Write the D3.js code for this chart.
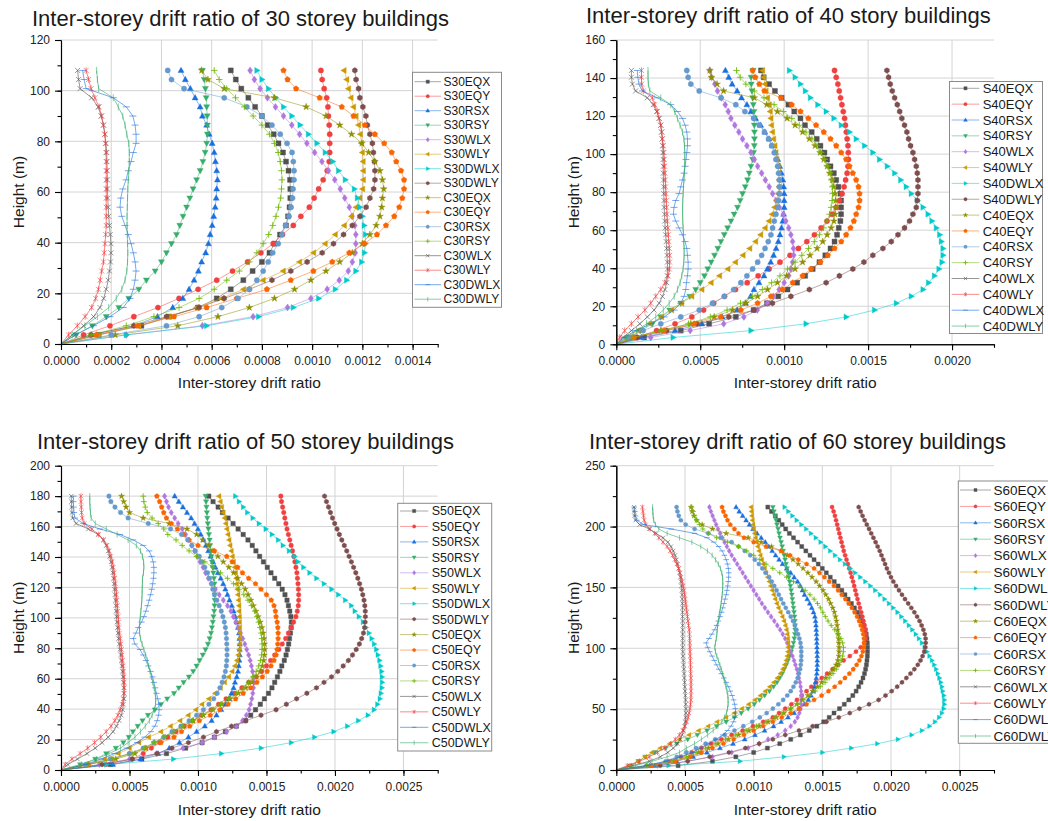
<!DOCTYPE html>
<html>
<head>
<meta charset="utf-8">
<script src="https://d3js.org/d3.v7.min.js"></script>
<style>
  body { margin: 0; background: #fff; }
  svg { display: block; font-family: "Liberation Sans", Arial, sans-serif; }
  .grid line { stroke: #d4d4d4; stroke-width: 1; }
  .axis path, .axis line { stroke: #000; stroke-width: 1.1; }
  .axis text { fill: #222; font-size: 12px; font-family: "Liberation Sans", Arial, sans-serif; }
  .title { font-size: 22px; fill: #1a1a1a; }
  .axis-title { font-size: 15.5px; fill: #1a1a1a; }
  .legend rect { fill: #fff; stroke: #8a8a8a; stroke-width: 1; }
  .legend text { fill: #1a1a1a; }
</style>
</head>
<body>
<script>
// inter-storey drift ratio, in units of 1e-5, listed from storey 1 (bottom) to the roof
// storey height is 3.6 m in every building

// ---- 30 storeys ----
const S30EQX = [15,32,43,54.5,62,67.6,72.6,76.3,80,83,85,87.2,89.6,90.4,91,91.3,91.3,91.2,90.6,89.6,88.4,86.6,84.7,82.3,80,77.3,74.6,71.8,69.6,67.6];
const S30EQY = [9,19.5,29,38.6,47,54.6,62,68.3,74.3,79.6,84.5,88.2,92.5,95.5,98.9,100.8,102.6,104.4,106,106.8,107,107,107,106.8,106.5,106.3,105.8,104.8,104,103.5];
const S30RSX = [12,29,38.4,44.5,48.5,51,53,54.7,56,57.6,58.7,59.4,60.2,60.8,61.4,61.8,62,62.3,62,61.5,61,60.2,59,58,56.3,55.4,53.4,51.5,49.5,47.8];
const S30RSY = [6,12.5,18,23,27,31,34,37.5,40,42,44,46,47.3,48.6,50,51.3,52.6,54,55.4,56.5,57.4,58,58.3,58.3,58.2,58,57.8,57.5,57,56.3];
const S30WLX = [26,56.3,76.5,90.2,99.5,106,110.8,114.4,116,117.2,117.4,117.4,117,115.9,114.8,113,111.2,109,106.5,103.9,101,97.9,95,91.9,88.6,85.4,82.2,79.3,77,75.3];
const S30WLY = [15,31,43,54,64,72.7,80.5,88.5,95,100.6,105.2,109.2,112.8,115.7,117.5,119,120.1,120.4,120.4,120.3,120,119.7,119.2,118.5,117.5,116.5,115.5,114.5,113.8,112.7];
const S30DWLX = [26,58,78.7,92.5,102.6,109.2,113.7,117.4,119.7,120.8,121.2,121.2,120.7,120,119,118,116.8,113.2,110.5,108.2,105.2,101.9,98.5,95.2,91.9,88.6,85.5,82.6,80,78];
const S30DWLY = [12,29,42,55,65,75,84,91.5,98,104,108.5,112.5,116,119,121.5,123,124.5,125,125,124.8,124.4,124,123,122,121.4,120.2,119,118.5,117.5,117];
const C30EQX = [21.6,46.5,62.5,75,85,93,99.5,105.5,111,116,120,123,125.5,127,127.7,128,128.5,128,127,125,122.5,119.8,115.7,111,105.5,97.6,85,65,58.5,56];
const C30EQY = [14,30.5,45,58,70,82,91.5,100.5,108,114.8,120.8,125.8,129.4,132.7,134.7,135.9,136.6,136.6,135.4,133.5,131.7,128.7,125,121,116.5,111.8,103,93.6,90.2,88.6];
const C30RSX = [20,42,55,64,70.5,75,78,80.5,82.5,84.3,86.5,88,89.4,90.8,91.6,92.2,92.4,92.8,92.8,92.5,92,90,87.3,84,80,74,65,49,44,42.5];
const C30RSY = [12,26,37,47,55,61,66,71,75,78,80.5,82.7,84.3,85.6,86.6,87.5,87.8,88,87.8,87.3,86.5,85,83,80,76.5,73,69.5,66,63,61];
const C30WLX = [4.5,9,13,15.5,17,18,18.8,19.3,19.7,19.9,19.9,19.6,19.3,19,18.8,18.6,18.5,18.5,18.4,18.3,18.2,17.9,17.5,16.9,16,14.8,12.2,7.6,7,6.6];
const C30WLY = [3,6.5,9.6,12.2,13.8,14.9,15.6,16.2,16.9,17.2,17.5,17.8,18,18,18,18,18,18,18,18,17.9,17.7,17.4,16.9,16.2,15.2,13.5,12,11,10];
const C30DWLX = [5.6,12.9,19.5,24.8,27.5,28.8,29.5,29.9,29.5,28.8,27.9,26.8,25.5,24.2,23.5,23.8,24.6,25.9,26.8,27.9,28.8,29.9,29.9,29.5,28.6,26,20.8,10,9.2,8.6];
const C30DWLY = [4.5,9.5,14.5,19,22,24.2,25.5,26.2,26.5,26.6,26.5,26.4,26.3,26.3,26.4,26.5,26.6,26.8,27,27.2,27.2,27,26.2,25.5,24.6,22.8,20.8,15,14.5,14.2];

// ---- 40 storeys ----
const S40EQX = [16.5,38.4,55.3,71.2,81.8,89.8,96.5,102,107.7,112.5,117,121,124.5,127.6,130,131.5,132.5,133.5,133.9,133.9,133.9,133.5,132.3,131,129.6,127.6,125.6,124,121.6,119.4,116.4,112.4,109.7,106,102.5,98.5,94.5,91,87.8,86.2];
const S40EQY = [12,24,35,45,52,58,64.5,71,78,84.5,91,97.5,103.5,108.5,113.5,118,122,125.5,128.5,131,133,134.5,135.7,136.6,137.5,138,138.3,138.2,138,137.5,137,136.5,136,135.2,134.4,133.6,132.8,132,131,130];
const S40RSX = [15,35,51,63,72,77,80,82,85,88,90,92,93.7,95.2,96.5,97.5,98.4,99.2,99.7,100,100,100,99.7,99.2,98.4,97.4,96.2,94.8,93,91,88.5,86,83,80.2,77.8,74.6,72,69,67,65];
const S40RSY = [8,14.5,21.5,26.5,31.8,38.4,43.8,47.3,50,52.5,54.5,56.5,58.5,60.5,62.3,64.3,66.3,68.3,70.2,72.2,73.8,75.2,76.8,78.2,79.2,80.2,81.2,81.8,82.2,82.3,82.3,82.2,82.2,82,81.6,81.2,80.8,80.4,80.3,81.5];
const S40WLX = [20.5,44,64,76,84,90,93.5,97,100,102.7,104,105,105.7,105.5,105,104,102.7,101,99.5,97.1,95.1,93.1,91.1,88.8,86.6,84.2,82.2,80.2,77.8,75.2,73,70.6,68.3,66.7,64.9,62.7,60.3,58.7,56.7,55.7];
const S40WLY = [6,13,20,27,33,39,45,51,56.5,61.5,66.5,71,75.5,79.5,83,86,88.7,91,92.8,94.3,95.7,96.5,97.1,97.1,96.9,96.5,95.7,95.1,94.5,93.7,93.1,92.5,92.1,91.7,91.1,90.1,89.2,88.6,87.8,87.2];
const S40DWLX = [33.8,80.2,113,136.9,153.8,166.8,175.7,182.7,186,189.5,192.2,194,194.6,194.6,193.6,192.6,190.6,188,185.7,182.7,179.3,175.7,172.7,169.4,165.8,161.4,156.8,152.8,147.9,142.9,138.9,134,129.6,125,120,115.6,112.6,109.7,106.5,103.1];
const S40DWLY = [12.5,30,48,67,82,93,104,115,125,132.9,140.9,147.5,152.8,158.8,163.8,167.8,171.7,174.7,176.7,178.7,179.3,179.7,179.7,179.7,179.3,178.7,177.7,176.7,175.3,174.1,173.1,171.7,170.1,168.8,167.4,165.8,164.4,163.2,162.2,161.2];
const C40EQX = [10,26.5,44.4,58.3,69.3,77.2,84.2,90.1,96,101.5,106.5,111,115.4,119.6,123,125.6,128,129.6,130.3,130.7,130.7,130.3,129.6,128.6,127.2,125.6,123.6,121.4,118.4,115,111,106.5,101.7,96,89.6,82.2,63.9,60,56.7,55.7];
const C40EQY = [10.5,28.5,46.4,62.3,74.2,84.2,92.1,99.1,105.1,111,116,121.6,126,130,134,136.9,139.5,141.5,142.9,144.3,144.9,144.9,144.3,142.9,140.9,138.9,136.9,134,131,127.6,123.6,119,114.4,109.7,104.5,98.1,88.2,85.2,82.8,81.2];
const C40RSX = [7,16,26.5,38.4,49.4,57.3,64.3,69.9,74.2,77.8,81.2,84.2,86.6,88.6,90.5,92.1,93.1,94.1,95.1,96.1,96.7,97.1,97.1,97.1,96.7,96.1,95.1,94.1,92.5,90.7,88.2,85.2,81.8,76.6,71.2,62.3,49.4,44.4,42.8,42];
const C40RSY = [10,27,43,56,66,74,81,87,92.5,97.5,102,106.5,110.5,114.5,118,121,123.5,125.5,127,128,128.6,128.8,128.7,128.2,127.3,126,124.2,122,119.5,116.5,113,109,104.5,99.5,94,88,82.2,77.2,73.8,71.6];
const C40WLX = [4,9,14,18.5,22.5,25.5,27.5,29,30,30.4,30.5,30.4,30.2,30,29.7,29.4,29.1,28.9,28.7,28.5,28.4,28.3,28.2,28.1,28,28,27.9,27.8,27.6,27.3,27,26.5,25.5,24,22,18.5,11.5,9.6,9,9];
const C40WLY = [2,5,9,13,17,20.5,23.5,26.5,29,30.8,31.6,31.8,31.8,31.6,31.3,31,30.7,30.4,30.2,30,29.8,29.6,29.4,29.2,29,28.8,28.6,28.3,28,27.5,27,26.5,25.5,24.5,22.9,21.5,16.1,15.1,15,15];
const C40DWLX = [4.6,11.5,20.5,28.5,34.4,38.4,40.4,41.4,41.8,42.4,42.8,42.8,42.4,42,41,39.4,37.4,35.4,34,34.4,35.4,37.4,38.4,39.4,40.4,41,41.5,42,42.4,42.4,42,41,39.4,36.4,32.4,24.5,15.5,13.5,12.8,12.5];
const C40DWLY = [6,12,18,23.5,28,31.5,34.5,36.5,38,39,39.8,40.2,40.4,40.4,40.2,40,39.8,39.6,39.5,39.5,39.6,39.8,40,40.3,40.5,40.7,40.8,40.8,40.6,40.3,39.4,38,36.4,34.8,32.4,26.5,20,19.1,18.9,18.9];

// ---- 50 storeys ----
const S50EQX = [36,59,77,91,103,112,120,128,134.5,138.5,142,145.5,148.5,151.5,154,156,158,159.8,161.2,163,164.3,165.3,166.2,166.8,167.5,168,168.2,167.8,167,166,165,163.5,161.5,159,156,153.3,150.6,147.8,145,142.3,139.6,136.5,133,129.3,125.6,122,117.8,114.7,111,107.9];
const S50EQY = [33,52,60,66,72,78,84,90,96,102.5,109.5,115,120.5,126.5,132,137,142.5,146.5,150,153,156,159,161.5,164,166,168,169.8,171.5,172.5,173.2,173.5,173.5,173.3,173,172.6,172.2,171.5,170.7,170,169,168,167,166,165,164.2,163.4,162.6,161.8,161,160.5];
const S50RSX = [38,58,71,79,86.5,93,99,105,110,113.5,117,120,122.5,124.4,126,127,128.3,129.2,129.8,130.2,130.5,130.5,130.5,130.3,130,129.2,128.2,127.2,126,124.7,123,121.5,120,118.4,116.6,114.5,112.7,111,109.2,107.5,105.8,104,102,100,97.5,95,92,89,86,83];
const S50RSY = [14,25,33,40,45.5,49.5,52.5,56,59.5,63.5,68.5,73,77.5,82.5,86,89.5,93.4,96.5,99,101.2,103.5,105.5,107.3,108.5,109.5,110.2,110.8,111.3,111.8,112.1,112.2,112.2,112.1,112,111.7,111.2,110.7,110.2,109.8,109.3,108.9,108.5,108,107.6,107.2,106.8,106.5,106.2,105.9,105.6];
const S50WLX = [28,50,70,89,103,112,121,128,132.5,135.3,137.3,138.4,139.3,140,140.5,140.7,140.4,139.8,139,138.1,137,135.6,134.2,132.7,131,129.3,127.6,125.8,124,121.5,118.5,115.5,112.7,110,107.5,105.5,103.7,101.5,99.5,97.5,95.5,93.3,91,88.5,85.5,83,80.5,78.5,77,75.6];
const S50WLY = [18,32,42,50,57,64,73,80,87,93,98.5,103,108,112.5,116.5,119.5,122.5,125,127,128.5,129.5,130.2,130.5,130.6,130.6,130.5,130.4,130.3,130.1,130,129.7,129.3,128.8,128.3,128,127.5,126.8,126,125.2,124.4,123.5,122.8,122,121.2,120.4,119.5,118.5,117.4,116.4,115.4];
const S50DWLX = [33,82,117,146,168,185,199,209,217,224,228.5,231,232.8,233.5,234.2,234.4,234.3,234,233.3,232.5,231.3,230.2,228.6,226.8,224.8,222.6,220.5,217.5,214.5,211.9,207.5,202.5,197.5,192,186.5,181.5,177,173,170.5,166.5,162,158.5,154,149.5,144.5,140,136,133,130,127.3];
const S50DWLY = [30,52,70,81,93,104,113.5,124.5,135,146,157,164.5,172,179.5,186.5,192,197.5,202,206,209.8,212.8,215.5,217.8,219.5,220.8,221.6,222,222.2,222.1,221.8,221.2,220.3,219.3,218,216.7,215.2,213.6,212,210.3,208.6,206.8,205,203.2,201.5,199.8,198.2,196.7,195.3,193.8,192.4];
const C50EQX = [20,40,54,62,68,76,82.5,89,96.5,104,111,117.5,123.5,129.5,135,139.5,142.8,145.3,147,148,148.5,148.7,148.6,148.2,147.6,146.7,145.5,144,142.3,140.5,138.7,136.6,134.5,131.8,129,126,122.5,118.5,114.5,111,107.5,103.5,99,92,79,60,50,47.5,45.8,44.2];
const C50EQY = [20,37,50,62,73,82.5,88,94,101,109,116,122,127.5,133,138.5,143,147,150.5,153.3,155.5,157,157.7,158.2,158.5,158.5,158.3,157.8,157,156.5,155.5,153.5,150,146,142,137,132.5,129,125,121,112,100,93.5,89.5,85,80.5,77,75,73.5,72,70];
const C50RSX = [18,36,50,60,68,75,81,87.5,93.5,99,104,108,111.5,114,116,117.6,119,120,120.7,121,121.2,121.2,121,120.8,120.5,120,119.2,118.2,117,115.5,113.8,112,110.8,109.8,108.5,107,105,103,101,98,95.5,92.5,88,80,63.7,49,43.5,39.4,36.4,35];
const C50RSY = [19,38,52,61,68,75,82,89,96,103,110,116.5,122.5,128,133,137,140,142.5,144.3,145.6,146.4,146.8,146.8,146.5,146,145.2,144.2,143,141.5,139,136.5,133.5,130,126,121.5,116.5,111,105,99,93.5,88.5,84,78,75,71,66.5,63,61.5,60.5,60];
const C50WLX = [5,12,19,25,30,34.5,38,40.5,42.5,44,45,45.6,46,46,45.8,45.5,45.2,44.8,44.4,44,43.5,43,42.5,42,41.6,41.2,40.8,40.5,40.2,40,39.7,39.4,39,38.7,38.3,37.8,37.2,36.5,35.5,34.5,33,31,27,20,11,8.5,8,7.8,7.6,7.5];
const C50WLY = [3,8,14,19.5,24.5,29,33,36.5,39.3,41.5,43.2,44.5,45.5,46,46.2,46.2,46,45.8,45.4,45,44.6,44.2,43.7,43.2,42.7,42.3,42,41.7,41.4,41.1,40.8,40.5,40.2,39.8,39.3,38.8,38.2,37.5,36.5,35.2,33.5,31,27.5,22.5,17,15.5,15,14.8,14.6,14.5];
const C50DWLX = [18,29,39,48,55.5,61,65.6,68.5,70.2,71.2,71.7,71.4,70.7,69.7,68.8,67.8,66.8,65.4,63.7,62,60,57.6,53.9,52.7,54.7,56.4,58.8,60.5,62,63.2,64.4,65.4,66.3,67,67.5,67.8,67.8,67.3,66.1,64.4,60,52.7,43,28.4,16.3,10.2,9.5,9.2,9,9];
const C50DWLY = [15,26,35,43.5,49,54,58,61.5,64.5,66.5,68,69,69.2,68.8,68,67,66,65,64,63,61.8,60.5,59.2,58,57.4,57.3,57.5,57.9,58.3,58.7,59,59.2,59.3,59.4,59.5,60.2,60.5,60.3,59.5,58,55,49,41,33,25,22,21.5,21.2,21,21];

// ---- 60 storeys ----
const S60EQX = [45,70,87,100,110,119,127,134,140.5,146,151,155,158.5,162.5,166,169.3,172.2,174.6,176.5,178.2,179.6,180.7,181.5,182.1,182.5,182.8,182.9,182.9,182.8,182.5,182,181.3,180.3,179.2,177.6,175.6,173.4,171.2,168.8,166.5,164.2,161.5,158.7,155.8,152.9,150,147,144,141,138,135,132,129,126,123.3,120.8,118.3,115.8,113,110.3];
const S60EQY = [25,38,47,55,62,69,76.5,84,92,99.5,107,114,118.5,123,127.5,131.5,135,138.5,142,145.5,149.5,153.5,157.5,161.5,165.5,170,174.5,178,180.5,181.6,181.6,181.3,180.7,180,179.2,178.3,177.4,176.5,175.6,174.8,174,173.2,172.4,171.5,170.6,169.6,168.6,167.6,166.6,165.6,164.8,164,163.2,162.4,161.6,160.8,160,159.2,158.2,157.1];
const S60RSX = [28,44,56,66,75.5,85,93.5,101,108,114.5,120,125,129.5,133.5,137,139.8,141.8,143.3,144.3,145,145.6,146,146.2,146.3,146.3,146.3,146.2,146.1,146,145.9,145.8,145.6,145.4,145.1,144.6,143.6,142.3,140.8,139,137,135.5,134,132,129.5,127,124,121,118.5,116,113.5,111,108.5,105.5,102.5,99.5,97,94.5,92,89.5,87.2];
const S60RSY = [10,16,21,28,36,44,52,59,66,73,80,86,91,96,100.5,104.3,108,111.5,114.5,117,119,120.8,122.3,123.8,125,126.2,127.3,128.2,129,129.6,130,130.2,130.2,130.1,129.8,129.4,129,128.6,128.2,127.8,127.3,126.8,126.2,125.6,125,124.3,123.6,122.9,122.2,121.5,120.8,120,119.2,118.5,117.8,117,116.3,115.6,114.8,114];
const S60WLX = [30,52,70,84,96,104,110.5,117.5,123,127,130,132,133.3,134.2,134.7,134.8,134.8,134.6,134.2,133.7,133,132.3,131.4,130.4,129.4,128.3,127.1,125.8,124.4,122.9,121.2,119.3,117.2,115,112.7,110.4,108.2,106,104,102,100,98,96,94,92,90,88,86,84,82.2,80.5,78.8,77.2,75.6,74.1,72.7,71.4,70.1,68.9,67.8];
const S60WLY = [10,16,21,26,32,39,46,53,60,67,73.5,80,86,91.5,96.5,101,105,108.5,111.8,114.7,117.3,119.5,121.3,122.7,123.8,124.5,125,125.2,125.2,125,124.6,124,123.2,122.2,121,119.6,118.2,117,115.8,114.7,113.6,112.5,111.4,110.3,109.2,108.1,107,106,105,104,103.1,102.3,101.5,100.8,100.2,99.7,99.2,98.8,98.5,98.2];
const S60DWLX = [38,90,122,150,171,190,205,215,222.5,228,232,235,237,238.3,238.8,238.8,238.4,237.6,237,236.2,235.2,234,232.8,231.4,229.8,228,226.2,224.5,222.5,220.3,218,215.5,213,210.3,207.5,204.7,201.6,198.5,195.3,192,188.5,185,181.3,177.6,173.9,170.2,166.5,162.8,159.2,155.7,152.2,148.7,145.2,141.7,138.2,134.7,131.3,128.2,125.2,122.5];
const S60DWLY = [32,52,68,82,94,104,114,123,133,143,153,162,170,177,184,191,196,200.5,204.5,208,211.2,214.2,217,219.5,221.5,223,224.2,225,225.3,225.2,224.6,223.6,222.3,220.8,219,217,214.8,212.5,210.2,208,205.8,203.7,201.7,200,198.5,197,195.7,194.4,193.1,191.8,190.3,188.8,187.2,185.6,184,182.4,180.8,179.3,177.9,176.5];
const C60EQX = [24,42,53,60,67,74,81.5,89,96.5,104,110.5,116.5,122,127,131.5,135.5,139.5,143,146.5,149.5,152.5,155.5,158,160,161.3,162,162.2,162.2,162,161.8,161.5,161.2,160.8,160.3,159.6,158.8,157.6,156,154.5,152.5,150.5,148,145.5,142.5,139.5,136,132.5,128.6,124.5,120,113,105.5,96,80,70,62.5,58.5,56.5,55.2,54.4];
const C60EQY = [26,43,54,62,70,78,85.5,93,100,107,114,120.5,127,133,138.5,144,149.5,154.5,159,163,166.5,169.7,172.5,175,177,178.5,179.5,180.2,180.5,180.3,179.8,179,178,176.8,175.3,173.5,171.5,169.2,166.8,164.2,161.5,158.5,155,151.5,148,144,138.5,132.5,126.5,120,109,100,93,89,86,83,81,79.5,78,77];
const C60RSX = [22,36,44,51,58,65,72,79,86,92.5,99,104.5,109.5,114,118,121.5,124.5,127,129,130.7,132,133,133.8,134.3,134.6,134.7,134.7,134.5,134.1,133.3,132.3,131.2,130,128.6,127,125.2,123.4,121.6,119.9,118.3,116.7,115,113.2,111.3,108.6,106.3,103.8,100.8,97.5,93.5,89,84,76,67,57,50.5,47,45.5,44.5,43.9];
const C60RSY = [22,40,51,58,65,72,79.5,87,94.5,102,109,115.5,121.5,127,132,136.5,141,145,148.5,152,155,157.8,160.2,162.2,163.8,164.8,165.3,165.4,164.8,163.5,161.5,159,156.5,154.2,152.2,150.4,148.6,146.5,144,141,137.5,133.5,129,124,119,114,109,104.5,100,95,89,81,73,67,63,60.5,58.5,57,56,55];
const C60WLX = [12,24,32,37.5,41.5,44.5,46.5,48,49,49.7,50.2,50.5,50.7,50.7,50.6,50.5,50.3,50.1,49.9,49.7,49.5,49.3,49.1,48.9,48.7,48.5,48.4,48.3,48.3,48.3,48.3,48.3,48.3,48.3,48.2,48.2,48.2,48.1,48,47.9,47.7,47.4,47,46.6,46.1,45.5,44.7,43.8,42.8,41.5,39.8,37.5,34,29,24,17,14,13.3,13,12.9];
const C60WLY = [8,17,24,30,35,39.5,43,46,48.3,50,51.3,52.3,53,53.6,54,54.3,54.4,54.4,54.4,54.4,54.3,54.2,54.1,54,53.9,53.8,53.7,53.6,53.5,53.4,53.3,53.1,52.6,52.2,51.8,51.4,51,50.6,50.2,49.8,49.3,48.7,48,47.2,46.3,45.3,44,42.5,41,39.2,37,34,31,28,24.5,21.5,20.3,19.8,19.4,19];
const C60DWLX = [22,36,47,55.5,61,67.5,73,77.5,81,83.5,85.3,86.4,86.8,86.7,86.2,85.4,84.3,83,81.6,80,78.3,76.5,74.7,73,71.3,69.7,68,66.5,65.3,67.5,69.5,71.5,73,74.3,75.5,76.6,77.5,78.4,79.2,80,80.6,81.1,81.5,81.8,81.9,81.6,81,80,78.7,77,74.5,71,66,57,40,20,15,14,13.5,13];
const C60DWLY = [14,26,37,46,51,57,62,66.5,70.5,74,76.8,78.8,80.2,81,81.4,81.4,81.2,80.6,79.9,79.1,78.3,77.4,76.4,75.4,74.3,73.2,72.2,71.7,72.2,72.8,73.2,73.5,73.8,74.3,74.8,75.3,75.8,76.3,76.7,77.1,77.4,77.5,77.5,77.4,76.8,75.8,74.3,72.3,69.8,66.3,61.5,55,46,37,31,28.5,27.2,26.8,26.6,26.4];

const storeyHeight = 3.6;
const loadCases = ["EQX", "EQY", "RSX", "RSY", "WLX", "WLY", "DWLX", "DWLY"];
const systems = ["S", "C"];

// Origin default colour / symbol increments
const colors = ["#515151","#F14040","#1A6FDF","#37AD6B","#B177DE","#CC9900","#00CBCC","#7D4E4E",
                "#8E8E00","#FB6501","#6699CC","#6FB802","#515151","#F14040","#1A6FDF","#37AD6B"];
const symbols = ["square","circle","up","down","diamond","left","right","hexagon",
                 "star","pentagon","sphere","plus","cross","asterisk","dash","bar"];
const strokeSymbols = new Set(["plus","cross","asterisk","dash","bar"]);

const panels = [
  { storeys: 30, title: "Inter-storey drift ratio of 30 storey buildings",
    series: [S30EQX,S30EQY,S30RSX,S30RSY,S30WLX,S30WLY,S30DWLX,S30DWLY,C30EQX,C30EQY,C30RSX,C30RSY,C30WLX,C30WLY,C30DWLX,C30DWLY],
    xMax: 0.0015, xStep: 0.0002, xMinor: 0.0001, yMax: 120, yStep: 20, yMinor: 10,
    left: 61, right: 437.7, top: 40, bottom: 344, r: 2.5,
    titleX: 32, titleY: 25.7, yTitleX: 24, xTitleY: 388.3,
    legend: { x: 412.5, y: 72.3, w: 89, h: 235, row0: 81.7, dy: 14.5, l0: 414.5, l1: 441, tx: 443.5, font: 12, r: 1.6 } },
  { storeys: 40, title: "Inter-storey drift ratio of 40 story buildings",
    series: [S40EQX,S40EQY,S40RSX,S40RSY,S40WLX,S40WLY,S40DWLX,S40DWLY,C40EQX,C40EQY,C40RSX,C40RSY,C40WLX,C40WLY,C40DWLX,C40DWLY],
    xMax: 0.00225, xStep: 0.0005, xMinor: 0.00025, yMax: 160, yStep: 20, yMinor: 10,
    left: 616.3, right: 994, top: 40, bottom: 344.3, r: 2.5,
    titleX: 586, titleY: 22.7, yTitleX: 578.5, xTitleY: 388.3,
    legend: { x: 949.5, y: 81.5, w: 93, h: 252, row0: 88.3, dy: 15.85, l0: 951.7, l1: 979.3, tx: 982.7, font: 13, r: 1.6 } },
  { storeys: 50, title: "Inter-storey drift ratio of 50 storey buildings",
    series: [S50EQX,S50EQY,S50RSX,S50RSY,S50WLX,S50WLY,S50DWLX,S50DWLY,C50EQX,C50EQY,C50RSX,C50RSY,C50WLX,C50WLY,C50DWLX,C50DWLY],
    xMax: 0.00275, xStep: 0.0005, xMinor: 0.00025, yMax: 200, yStep: 20, yMinor: 10,
    left: 61, right: 437.7, top: 465.7, bottom: 770, r: 2.2,
    titleX: 37, titleY: 449.3, yTitleX: 24, xTitleY: 815,
    legend: { x: 397.7, y: 503.3, w: 94, h: 247.7, row0: 511, dy: 15.45, l0: 400, l1: 428.3, tx: 431.7, font: 12.5, r: 1.6 } },
  { storeys: 60, title: "Inter-storey drift ratio of 60 storey buildings",
    series: [S60EQX,S60EQY,S60RSX,S60RSY,S60WLX,S60WLY,S60DWLX,S60DWLY,C60EQX,C60EQY,C60RSX,C60RSY,C60WLX,C60WLY,C60DWLX,C60DWLY],
    xMax: 0.00275, xStep: 0.0005, xMinor: 0.00025, yMax: 250, yStep: 50, yMinor: 25,
    left: 616.3, right: 994, top: 465.7, bottom: 770, r: 2.0,
    titleX: 589, titleY: 449.3, yTitleX: 578.5, xTitleY: 815,
    legend: { x: 958.3, y: 481, w: 120, h: 262.3, row0: 490, dy: 16.4, l0: 960, l1: 991, tx: 993.5, font: 13.5, r: 1.5 } }
];

function symbolPath(type, r) {
  const poly = pts => "M" + pts.map(p => p[0].toFixed(2) + "," + p[1].toFixed(2)).join("L") + "Z";
  const ring = (n, rad, start) => d3.range(n).map(k => {
    const a = start + k * 2 * Math.PI / n;
    return [rad * Math.cos(a), rad * Math.sin(a)];
  });
  switch (type) {
    case "square": return poly([[-r, -r], [r, -r], [r, r], [-r, r]]);
    case "circle":
    case "sphere": {
      const c = r * 1.05;
      return `M${-c},0A${c},${c} 0 1,0 ${c},0A${c},${c} 0 1,0 ${-c},0Z`;
    }
    case "up": return poly([[0, -1.3 * r], [1.2 * r, 0.85 * r], [-1.2 * r, 0.85 * r]]);
    case "down": return poly([[0, 1.3 * r], [1.2 * r, -0.85 * r], [-1.2 * r, -0.85 * r]]);
    case "diamond": return poly([[0, -1.4 * r], [r, 0], [0, 1.4 * r], [-r, 0]]);
    case "left": return poly([[-1.3 * r, 0], [0.85 * r, -1.2 * r], [0.85 * r, 1.2 * r]]);
    case "right": return poly([[1.3 * r, 0], [-0.85 * r, -1.2 * r], [-0.85 * r, 1.2 * r]]);
    case "hexagon": return poly(ring(6, 1.12 * r, Math.PI / 6));
    case "pentagon": return poly(ring(5, 1.18 * r, -Math.PI / 2));
    case "star": return poly(d3.range(10).map(k => {
      const a = -Math.PI / 2 + k * Math.PI / 5, rad = k % 2 ? 0.55 * r : 1.45 * r;
      return [rad * Math.cos(a), rad * Math.sin(a)];
    }));
    case "plus": return `M${-1.3 * r},0H${1.3 * r}M0,${-1.3 * r}V${1.3 * r}`;
    case "cross": return `M${-r},${-r}L${r},${r}M${-r},${r}L${r},${-r}`;
    case "asterisk": return `M${-r},${-r}L${r},${r}M${-r},${r}L${r},${-r}M0,${-1.3 * r}V${1.3 * r}`;
    case "dash": return `M${-1.4 * r},0H${1.4 * r}`;
    case "bar": return `M0,${-1.4 * r}V${1.4 * r}`;
  }
}

function styleMarker(sel, k) {
  const col = colors[k];
  if (strokeSymbols.has(symbols[k])) {
    sel.attr("fill", "none").attr("stroke", col).attr("stroke-width", 1)
       .attr("stroke-opacity", k >= 12 ? 0.6 : 0.85);
  } else {
    sel.attr("fill", col).attr("stroke", col).attr("stroke-width", 0.4);
  }
}

const svg = d3.select("body").append("svg")
  .attr("width", 1048)
  .attr("height", 821);

panels.forEach(p => {
  const x = d3.scaleLinear().domain([0, p.xMax]).range([p.left, p.right]);
  const y = d3.scaleLinear().domain([0, p.yMax]).range([p.bottom, p.top]);
  const g = svg.append("g");

  const xMajor = d3.range(0, Math.floor(p.xMax / p.xStep + 1e-6) + 1).map(k => k * p.xStep);
  const xMinor = d3.range(0, Math.floor(p.xMax / p.xMinor + 1e-6) + 1).map(k => k * p.xMinor);
  const yMajor = d3.range(0, Math.floor(p.yMax / p.yStep + 1e-6) + 1).map(k => k * p.yStep);
  const yMinor = d3.range(0, Math.floor(p.yMax / p.yMinor + 1e-6) + 1).map(k => k * p.yMinor);

  // grid
  const grid = g.append("g").attr("class", "grid");
  grid.selectAll("line.v").data(xMajor.slice(1)).join("line").attr("class", "v")
    .attr("x1", d => x(d)).attr("x2", d => x(d)).attr("y1", p.top).attr("y2", p.bottom);
  grid.selectAll("line.h").data(yMajor.slice(1)).join("line").attr("class", "h")
    .attr("x1", p.left).attr("x2", p.right).attr("y1", d => y(d)).attr("y2", d => y(d));

  // series
  const line = d3.line().x(d => x(d[0])).y(d => y(d[1]));
  p.series.forEach((vals, k) => {
    if (vals.length !== p.storeys) console.warn("length", p.storeys, k, vals.length);
    const pts = [[0, 0]].concat(vals.map((v, i) => [v * 1e-5, (i + 1) * storeyHeight]));
    g.append("path")
      .attr("d", line(pts))
      .attr("fill", "none")
      .attr("stroke", colors[k])
      .attr("stroke-width", 1)
      .attr("stroke-opacity", k >= 12 ? 0.6 : 0.5);
    g.append("g").selectAll("path").data(pts.slice(1)).join("path")
      .attr("transform", d => `translate(${x(d[0]).toFixed(2)},${y(d[1]).toFixed(2)})`)
      .attr("d", symbolPath(symbols[k], p.r))
      .call(styleMarker, k);
  });

  // axes
  g.append("g").attr("class", "axis").attr("transform", `translate(0,${p.bottom})`)
    .call(d3.axisBottom(x).tickValues(xMinor).tickSize(3.5).tickFormat("").tickSizeOuter(0));
  g.append("g").attr("class", "axis").attr("transform", `translate(0,${p.bottom})`)
    .call(d3.axisBottom(x).tickValues(xMajor).tickSize(6).tickPadding(6)
      .tickFormat(d3.format(".4f")).tickSizeOuter(0));
  g.append("g").attr("class", "axis").attr("transform", `translate(${p.left},0)`)
    .call(d3.axisLeft(y).tickValues(yMinor).tickSize(3.5).tickFormat("").tickSizeOuter(0));
  g.append("g").attr("class", "axis").attr("transform", `translate(${p.left},0)`)
    .call(d3.axisLeft(y).tickValues(yMajor).tickSize(6).tickPadding(5)
      .tickFormat(d3.format("d")).tickSizeOuter(0));

  // titles
  g.append("text").attr("class", "title").attr("x", p.titleX).attr("y", p.titleY).text(p.title);
  g.append("text").attr("class", "axis-title")
    .attr("x", (p.left + p.right) / 2).attr("y", p.xTitleY)
    .attr("text-anchor", "middle").text("Inter-storey drift ratio");
  g.append("text").attr("class", "axis-title")
    .attr("transform", `translate(${p.yTitleX},${(p.top + p.bottom) / 2}) rotate(-90)`)
    .attr("text-anchor", "middle").text("Height (m)");

  // legend (the 60-storey one runs past the right edge, as in the source figure)
  const L = p.legend;
  const lg = g.append("g").attr("class", "legend");
  lg.append("rect").attr("x", L.x).attr("y", L.y).attr("width", L.w).attr("height", L.h);
  p.series.forEach((vals, k) => {
    const yy = L.row0 + k * L.dy;
    const name = systems[Math.floor(k / 8)] + p.storeys + loadCases[k % 8];
    lg.append("line")
      .attr("x1", L.l0).attr("x2", L.l1).attr("y1", yy).attr("y2", yy)
      .attr("stroke", colors[k]).attr("stroke-width", 1)
      .attr("stroke-opacity", k >= 12 ? 0.6 : 0.5);
    lg.append("path")
      .attr("transform", `translate(${(L.l0 + L.l1) / 2},${yy})`)
      .attr("d", symbolPath(symbols[k], L.r))
      .call(styleMarker, k);
    lg.append("text")
      .attr("x", L.tx).attr("y", yy).attr("dy", "0.35em")
      .style("font-size", L.font + "px")
      .text(name);
  });
});
</script>
</body>
</html>
